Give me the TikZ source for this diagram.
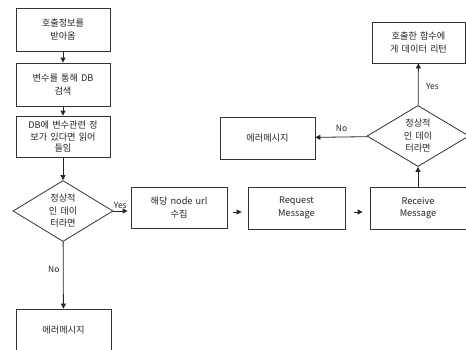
\documentclass[tikz,border=0pt]{standalone}
\usepackage{fontspec}
\setmainfont{Noto Sans CJK KR}
\usetikzlibrary{shapes.geometric,arrows.meta}
\begin{document}
\begin{tikzpicture}[x=1pt,y=-1pt,
  every node/.style={font=\fontsize{9.2}{12.5}\selectfont, text=black!85},
  box/.style={draw=black!80, line width=0.8pt, fill=white, minimum width=94pt, minimum height=42pt, inner sep=1pt, align=center, text width=88pt},
  dia/.style={draw=black!80, line width=0.8pt, fill=white, diamond, aspect=1.64, minimum width=100pt, minimum height=61pt, inner sep=0pt, align=center, text width=40pt},
  arr/.style={draw=black!85, line width=0.8pt, -{Triangle[length=5pt,width=5pt]}},
  lbl/.style={font=\fontsize{8.5}{10}\selectfont}
]
\useasboundingbox (0,0) rectangle (466,349);
\clip (0,0) rectangle (466,349);
\node[box, minimum height=43pt] (b1) at (63,29.5) {호출정보를\\받아옴};
\node[box, minimum height=43pt] (b2) at (63,84.5) {변수를 통해 DB\\검색};
\node[box, minimum height=41pt, font=\fontsize{9.2}{11.5}\selectfont] (b3) at (63,136.5) {DB에 변수관련 정\\보가 있다면 읽어\\들임};
\node[dia] (d1) at (63,211) {정상적\\인 데이\\터라면};
\node[box, minimum width=96pt, minimum height=41pt] (b4) at (179,207.5) {해당 node url\\수집};
\node[box, minimum width=97pt, minimum height=42pt] (b5) at (296.5,208) {Request\\Message};
\node[box, minimum width=96pt, minimum height=42pt] (b6) at (418,208) {Receive\\Message};
\node[dia, minimum width=102pt] (d2) at (418,136) {정상적\\인 데이\\터라면};
\node[box, minimum width=93pt, minimum height=41pt] (b7) at (418.5,42.5) {호출한 함수에\\게 데이터 리턴};
\node[box, minimum width=95pt, minimum height=42pt] (b8) at (267.5,138) {에러메시지};
\node[box, minimum width=95pt, minimum height=42pt] (b9) at (63.5,330) {에러메시지};

\draw[arr] (b1) -- (b2);
\draw[arr] (b2) -- (b3);
\draw[arr] (b3) -- (d1);
\draw[arr, shorten >=3pt] (d1.east) -- (b4.west |- d1.east) node[lbl, pos=0.4, above=-1pt] {Yes};
\draw[arr, shorten <=6pt, shorten >=6pt] (b4.east |- 0,212) -- (b5.west |- 0,212);
\draw[arr, shorten <=9pt, shorten >=7pt] (b5.east |- 0,212) -- (b6.west |- 0,212);
\draw[arr] (b6) -- (d2);
\draw[arr] (d2) -- (b7) node[lbl, pos=0.45, right=4pt] {Yes};
\draw[arr] (d2) -- (b8) node[lbl, pos=0.5, above=2pt] {No};
\draw[arr] (d1) -- (b9) node[lbl, pos=0.42, left=0pt] {No};
\end{tikzpicture}
\end{document}
